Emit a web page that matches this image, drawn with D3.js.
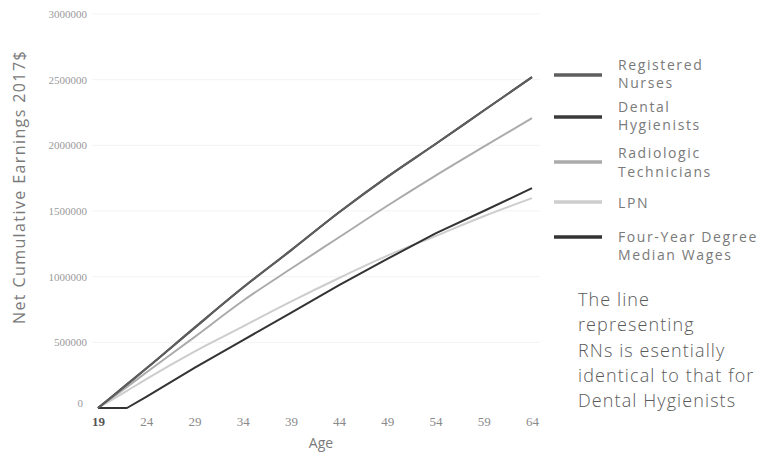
<!DOCTYPE html>
<html>
<head>
<meta charset="utf-8">
<script src="https://cdn.jsdelivr.net/npm/d3@7"></script>
<style>
  body { margin: 0; background: #fff; }
  svg { display: block; }
</style>
</head>
<body>
<svg id="chart" width="760" height="455"></svg>
<script>
// ---- data ----
const ages = [19, 22, 24, 29, 34, 39, 44, 49, 54, 59, 64];
const registeredNurses = [0, 180000, 300000, 610000, 915000, 1200000, 1490000, 1760000, 2010000, 2265000, 2519000];
const dentalHygienists = [0, 180000, 300000, 610000, 915000, 1200000, 1490000, 1760000, 2010000, 2265000, 2519000];
const radiologicTechs = [0, 160000, 270000, 540000, 815000, 1060000, 1300000, 1540000, 1770000, 1990000, 2207000];
const lpn = [0, 130000, 220000, 430000, 620000, 810000, 990000, 1160000, 1310000, 1460000, 1598000];
const fourYear = [0, 0, 85000, 305000, 515000, 725000, 935000, 1135000, 1330000, 1500000, 1674000];
const xTicks = [19, 24, 29, 34, 39, 44, 49, 54, 59, 64];
const yTicks = [0, 500000, 1000000, 1500000, 2000000, 2500000, 3000000];
const seriesNames = ["Registered Nurses", "Dental Hygienists", "Radiologic Technicians", "LPN", "Four-Year Degree Median Wages"];
const legendLines = [["Registered", "Nurses"], ["Dental", "Hygienists"], ["Radiologic", "Technicians"], ["LPN"], ["Four-Year Degree", "Median Wages"]];
const noteLines = ["The line", "representing", "RNs is esentially", "identical to that for", "Dental Hygienists"];

const series = [
  { name: seriesNames[0], values: registeredNurses, color: "#5e5e5e", smooth: true },
  { name: seriesNames[1], values: dentalHygienists, color: "#3a3a3a", smooth: true },
  { name: seriesNames[2], values: radiologicTechs, color: "#ababab", smooth: true },
  { name: seriesNames[3], values: lpn, color: "#cdcdcd", smooth: true },
  { name: seriesNames[4], values: fourYear, color: "#333333", smooth: false }
];

const svg = d3.select("#chart");
const x = d3.scaleLinear().domain([19, 64]).range([98, 532]);
const y = d3.scaleLinear().domain([0, 3000000]).range([408, 14]);

// gridlines
svg.append("g").selectAll("line").data(yTicks.slice(1)).join("line")
  .attr("x1", 92).attr("x2", 540)
  .attr("y1", d => y(d)).attr("y2", d => y(d))
  .attr("stroke", "#f3f3f3").attr("stroke-width", 1);

// y axis
const yAxis = svg.append("g").attr("transform", "translate(87,0)")
  .call(d3.axisLeft(y).tickValues(yTicks).tickFormat(d3.format("d")).tickSize(0).tickPadding(0));
yAxis.select(".domain").remove();
yAxis.selectAll("text").attr("fill", "#9a9a9a").style("font-family", "'Liberation Serif', serif").style("font-size", "11px");
yAxis.selectAll(".tick").filter(d => d === 0).select("text").attr("dx", "-4").attr("dy", "-0.1em");

// x axis
const xAxis = svg.append("g").attr("transform", "translate(0,415)")
  .call(d3.axisBottom(x).tickValues(xTicks).tickFormat(d3.format("d")).tickSize(0).tickPadding(2));
xAxis.select(".domain").remove();
xAxis.selectAll("text").attr("fill", "#8a8a8a").style("font-family", "'Liberation Serif', serif").style("font-size", "13px");
xAxis.selectAll(".tick").filter(d => d === 19).select("text").attr("fill", "#555").style("font-weight", "bold");

// axis titles
svg.append("text").attr("x", 321).attr("y", 448).attr("text-anchor", "middle")
  .attr("fill", "#7a7a7a").style("font-family", "'Open Sans', sans-serif").style("font-size", "14px").text("Age");
svg.append("text").attr("transform", "translate(25,187) rotate(-90)").attr("text-anchor", "middle")
  .attr("fill", "#7a7a7a").style("font-family", "'Open Sans', sans-serif").style("font-size", "16px")
  .style("letter-spacing", "1.4px").text("Net Cumulative Earnings 2017$");

// lines
const smoothLine = d3.line().x((d, i) => x(ages[i])).y(d => y(d)).curve(d3.curveMonotoneX);
const straightLine = d3.line().x((d, i) => x(ages[i])).y(d => y(d));
const drawOrder = [3, 2, 4, 1, 0];
svg.append("g").selectAll("path").data(drawOrder.map(i => series[i])).join("path")
  .attr("d", s => (s.smooth ? smoothLine : straightLine)(s.values))
  .attr("fill", "none").attr("stroke", s => s.color).attr("stroke-width", 2).attr("stroke-linejoin", "round");

// legend
const legendY = [75, 117, 162, 202, 237];
const textBase = [[70, 88], [112, 130], [158, 177], [208], [242, 260]];
const leg = svg.append("g");
series.forEach((s, i) => {
  leg.append("line").attr("x1", 554).attr("x2", 602).attr("y1", legendY[i]).attr("y2", legendY[i])
    .attr("stroke", s.color).attr("stroke-width", 3.5);
  const t = leg.append("text").attr("x", 618)
    .attr("fill", "#7a7a7a").style("font-family", "'Open Sans', sans-serif").style("font-size", "14px")
    .style("letter-spacing", "1.6px");
  legendLines[i].forEach((l, j) => t.append("tspan").attr("x", 618).attr("y", textBase[i][j]).text(l));
});

// note
const note = svg.append("text").attr("fill", "#5a5a5a")
  .style("font-family", "'Open Sans', sans-serif").style("font-weight", "300").style("font-size", "18px")
  .style("letter-spacing", "1.1px");
noteLines.forEach((l, j) => note.append("tspan").attr("x", 578).attr("y", 306 + j * 25.3).text(l));
</script>
</body>
</html>
